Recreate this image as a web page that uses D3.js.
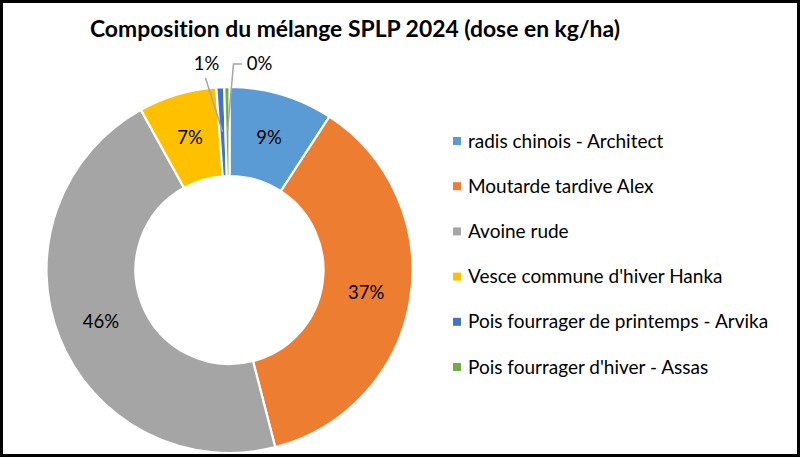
<!DOCTYPE html>
<html><head><meta charset="utf-8">
<script src="https://cdn.jsdelivr.net/npm/d3@7"></script>
<style>
html,body{margin:0;padding:0;background:#fff;}
svg{display:block;font-family:Lato,"Noto Sans",sans-serif;font-variant-ligatures:none;}
</style></head>
<body>
<svg id="chart" width="800" height="457"></svg>
<script>
const title = "Composition du mélange SPLP 2024 (dose en kg/ha)";
const categories = ["radis chinois - Architect","Moutarde tardive Alex","Avoine rude","Vesce commune d'hiver Hanka","Pois fourrager de printemps - Arvika","Pois fourrager d'hiver - Assas"];
const doses = [2, 8, 10, 1.5, 0.15, 0.1];
const colors = ["#5B9BD5","#ED7D31","#A5A5A5","#FFC000","#4472C4","#70AD47"];

const W = 800, H = 457;
const svg = d3.select("#chart");
svg.append("rect").attr("x",1.5).attr("y",1.5).attr("width",W-3).attr("height",H-3)
  .attr("fill","#fff").attr("stroke","#000").attr("stroke-width",3);

svg.append("text").attr("x",355).attr("y",37).attr("text-anchor","middle")
  .attr("font-weight","bold").attr("font-size",22.9).attr("fill","#000").text(title);

const cx = 229.5, cy = 270, rOut = 183, rIn = 94;
const data = categories.map((c,i)=>({name:c, value:doses[i], color:colors[i]}));
const pie = d3.pie().value(d=>d.value).sort(null).startAngle(0).endAngle(2*Math.PI);
const arcs = pie(data);
const total = d3.sum(doses);
const arc = d3.arc().innerRadius(rIn).outerRadius(rOut);
const mid = d3.arc().innerRadius((rIn+rOut)/2).outerRadius((rIn+rOut)/2);
const fmt = d3.format(".0%");
const g = svg.append("g").attr("transform",`translate(${cx},${cy})`);

g.selectAll("path.slice").data(arcs).join("path").attr("class","slice")
  .attr("d",arc).attr("fill",d=>d.data.color).attr("stroke","#fff").attr("stroke-width",2.2);

arcs.forEach((d,i)=>{
  const [mx,my] = mid.centroid(d);
  if (d.data.value/total > 0.02){
    g.append("text").attr("x",mx).attr("y",my).attr("dy","0.35em").attr("text-anchor","middle")
      .attr("font-size",18.5).attr("fill","#000").text(fmt(d.value/total));
  }
});
// small slices with leader lines
const small = [{i:4, tx:-23, ty:-206, pts:[[-24,-192]]},{i:5, tx:30, ty:-206, pts:[[12.5,-206],[4,-206]]}];
small.forEach(s=>{
  const d = arcs[s.i];
  const [mx,my] = mid.centroid(d);
  const pts = s.pts.concat([[mx,my]]);
  g.append("path").attr("d",d3.line()(pts)).attr("fill","none").attr("stroke","#A5A5A5").attr("stroke-width",1.5);
  g.append("text").attr("x",s.tx).attr("y",s.ty).attr("dy","0.35em").attr("text-anchor","middle")
    .attr("font-size",18.5).attr("fill","#000").text(fmt(d.value/total));
});

// legend
const lg = svg.append("g").attr("transform","translate(453,141)");
data.forEach((d,i)=>{
  const row = lg.append("g").attr("transform",`translate(0,${i*45.2})`);
  row.append("rect").attr("x",0).attr("y",-4).attr("width",8).attr("height",8).attr("fill",d.color);
  row.append("text").attr("x",15).attr("y",0).attr("dy","0.35em").attr("font-size",19).attr("fill","#000").text(d.name);
});
</script>
</body></html>
